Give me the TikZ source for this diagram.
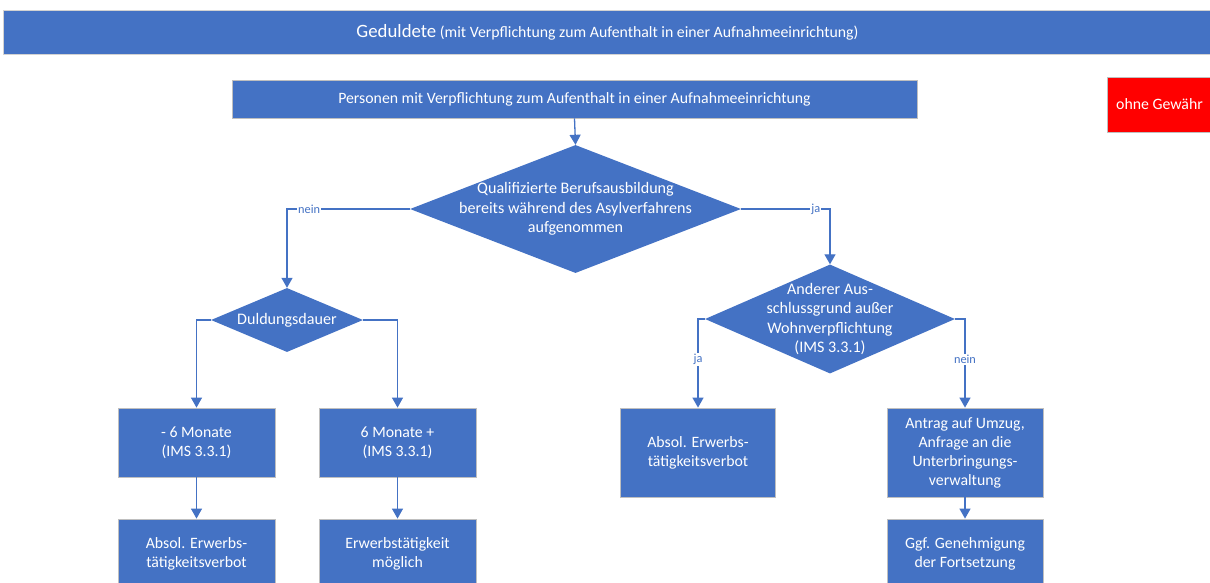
\documentclass[tikz,border=0pt]{standalone}
\usepackage{fontspec}
\setmainfont{Carlito}
\usetikzlibrary{shapes.geometric,arrows.meta}
\definecolor{flowblue}{HTML}{4472C4}
\definecolor{edgegray}{HTML}{BFBFBF}
\tikzset{
  box/.style={rectangle, fill=flowblue, draw=edgegray, line width=0.8pt,
    text=white, align=center, inner sep=0pt,
    font=\fontsize{15.8}{19}\selectfont},
  decision/.style={diamond, fill=flowblue, draw=none, inner sep=0pt},
  dtext/.style={text=white, align=center, inner sep=0pt,
    font=\fontsize{16.1}{19.6}\selectfont},
  flow/.style={draw=flowblue, line width=1.3pt,
    -{Triangle[width=11pt,length=10pt]}},
  lbl/.style={fill=white, text=flowblue, inner sep=1pt,
    font=\fontsize{12.3}{14}\selectfont},
}
\begin{document}
\begin{tikzpicture}[x=1pt,y=-1pt]
\useasboundingbox (0,0) rectangle (1210,582);

% title banner
\node[box, minimum width=1209pt, minimum height=44pt, draw=gray!35] (title) at (607.5,32)
  {{\fontsize{18.8}{22}\selectfont Geduldete} (mit Verpflichtung zum Aufenthalt in einer Aufnahmeeinrichtung)};

% disclaimer
\node[box, fill=red, minimum width=105pt, minimum height=55pt] (note) at (1159.5,104.5) {ohne Gewähr};

% top step
\node[box, minimum width=685pt, minimum height=38pt] (start) at (574.5,99)
  {Personen mit Verpflichtung zum Aufenthalt in einer Aufnahmeeinrichtung};

% decisions
\node[decision, minimum width=331pt, minimum height=128pt] (d1) at (575.5,209) {};
\node[dtext] at (d1.center) {Qualifizierte Berufsausbildung\\bereits während des Asylverfahrens\\aufgenommen};

\node[decision, minimum width=152pt, minimum height=64pt] (d2) at (287,320) {};
\node[dtext] at (d2.center) {Duldungsdauer};

\node[decision, minimum width=250pt, minimum height=109pt] (d3) at (830,319) {};
\node[dtext] at (d3.center) {Anderer Aus-\\schlussgrund außer\\Wohnverpflichtung\\(IMS 3.3.1)};

% left branch
\node[box, minimum width=157pt, minimum height=69pt] (b1) at (196.5,442.5) {- 6 Monate\\(IMS 3.3.1)};
\node[box, minimum width=157pt, minimum height=69pt] (b2) at (397.5,442.5) {6 Monate +\\(IMS 3.3.1)};
\node[box, minimum width=157pt, minimum height=69pt] (c1) at (196.5,553.5) {Absol. Erwerbs-\\tätigkeitsverbot};
\node[box, minimum width=157pt, minimum height=69pt] (c2) at (397.5,553.5) {Erwerbstätigkeit\\möglich};

% right branch
\node[box, minimum width=155pt, minimum height=89pt] (b3) at (698,452.5) {Absol. Erwerbs-\\tätigkeitsverbot};
\node[box, minimum width=156pt, minimum height=89pt] (b4) at (965,452.5) {Antrag auf Umzug,\\Anfrage an die\\Unterbringungs-\\verwaltung};
\node[box, minimum width=156pt, minimum height=69pt] (c5) at (965,553.5) {Ggf. Genehmigung\\der Fortsetzung};

% connectors
\draw[flow] (start.south) -- (d1.north);
\draw[flow] (d1.west) -| node[lbl, pos=0.41] {nein} (d2.north);
\draw[flow] (d1.east) -| node[lbl, pos=0.42] {ja} (d3.north);
\draw[flow] (d2.west) -| (b1.north);
\draw[flow] (d2.east) -| (b2.north);
\draw[flow] (d3.west) -| node[lbl, pos=0.73] {ja} (b3.north);
\draw[flow] (d3.east) -| node[lbl, pos=0.73] {nein} (b4.north);
\draw[flow] (b1.south) -- (c1.north);
\draw[flow] (b2.south) -- (c2.north);
\draw[flow] (b4.south) -- (c5.north);
\end{tikzpicture}
\end{document}
